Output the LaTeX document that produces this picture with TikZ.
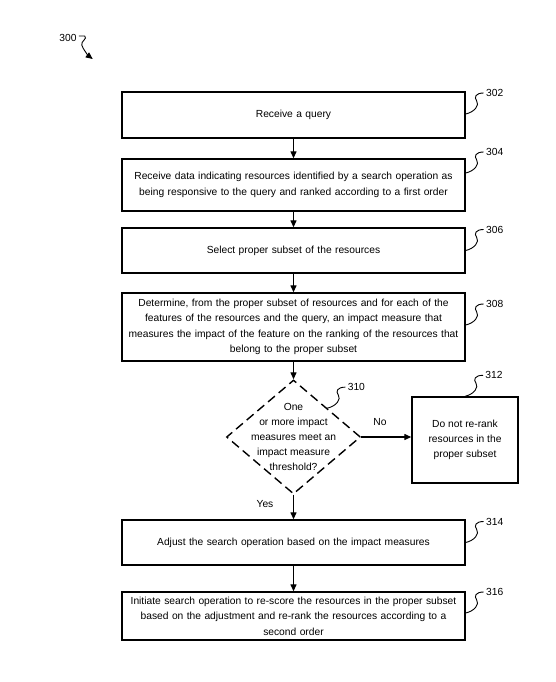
\documentclass[tikz,border=0pt]{standalone}
\usepackage{fontspec}
\setmainfont{Liberation Sans}
\usetikzlibrary{shapes.geometric,arrows.meta,calc}
\begin{document}
\begin{tikzpicture}[x=1bp,y=-1bp,
stepbox/.style ={rectangle, draw, line width=1.4bp,
  minimum width=343bp, text width=335bp, align=center,
  inner sep=0pt, font=\fontsize{10.3}{15.5}\selectfont
},
sidebox/.style ={rectangle, draw, line width=1.4bp,
  minimum width=106bp, minimum height=86bp, align=center,
  inner sep=0pt, font=\fontsize{10.3}{15.2}\selectfont
},
decision/.style ={diamond, draw, line width=1.4bp,
  dash pattern=on 9bp off 5bp,
  minimum width=134bp, minimum height=114bp, inner sep=0pt
},
flow/.style ={line width=1.3bp, -{Triangle[length=7bp,width=6bp]}},
leader/.style ={line width=0.9bp},
num/.style ={inner sep=2bp, font=\fontsize{10.3}{12}\selectfont}]
\useasboundingbox (0,0) rectangle (556,682);
% steps
\node (b302) at (293.5,115) [stepbox, minimum height=46bp] {Receive a query};
\node (b304) at (293.5,185) [stepbox, minimum height=52bp]
  {Receive data indicating resources identified by a search operation as\\
   being responsive to the query and ranked according to a first order};
\node (b306) at (293.5,250.5) [stepbox, minimum height=45bp]
  {Select proper subset of the resources};
\node (b308) at (293.5,327) [stepbox, minimum height=68bp]
  {Determine, from the proper subset of resources and for each of the\\
   features of the resources and the query, an impact measure that\\
   measures the impact of the feature on the ranking of the resources that\\
   belong to the proper subset};
\node (d310) at (293.5,437) [decision] {};
\node (t310) at (d310.center) [align=center, inner sep=0pt,
  font=\fontsize{10.3}{15}\selectfont]
  {One\\ or more impact\\ measures meet an\\ impact measure\\ threshold?};
\node (b312) at (465,440) [sidebox]
  {Do not re-rank\\ resources in the\\ proper subset};
\node (b314) at (293.5,542.5) [stepbox, minimum height=45bp]
  {Adjust the search operation based on the impact measures};
\node (b316) at (293.5,616) [stepbox, minimum height=48bp]
  {Initiate search operation to re-score the resources in the proper subset\\
   based on the adjustment and re-rank the resources according to a\\
   second order};
\node (yes) at (265,504) [num] {Yes};
\node (no) at (380,422) [num] {No};
% arrows
\draw[flow] (b302) -- (b304);
\draw[flow] (b304) -- (b306);
\draw[flow] (b306) -- (b308);
\draw[flow] (b308) -- (d310);
\draw[flow] (d310.east) -- (d310.east -| b312.west);
\draw[flow] (d310) -- (b314);
\draw[flow] (b314) -- (b316);
% reference numerals
\coordinate (s302) at ([yshift=1bp]b302.east);
\coordinate (s304) at ([yshift=12bp]b304.east);
\coordinate (s306) at (b306.east);
\coordinate (s308) at ([yshift=2bp]b308.east);
\coordinate (s310) at ($(d310.north)!0.5!(d310.east)$);
\coordinate (s312) at (b312.north);
\coordinate (s314) at (b314.east);
\coordinate (s316) at ([yshift=3bp]b316.east);
\foreach \b in {302,304,306,308,310,312,314,316}
  \draw[leader] (s\b) .. controls +(9,-2) and +(3,4) .. ++(11,-13)
    .. controls +(-3,-4) and +(-8,0) .. ++(7,-8)
    node[num, anchor=west] (l\b) {\b};
\node (l300) at (68,38) [num] {300};
\draw[leader, -{Triangle[length=7bp,width=6bp]}] ([yshift=2bp]l300.east)
  -- ++(6,0) .. controls +(3,3) and +(-1,-4) .. ++(-3,9)
  .. controls +(1,4) and +(-4,-3) .. ++(11,14);
\end{tikzpicture}
\end{document}
